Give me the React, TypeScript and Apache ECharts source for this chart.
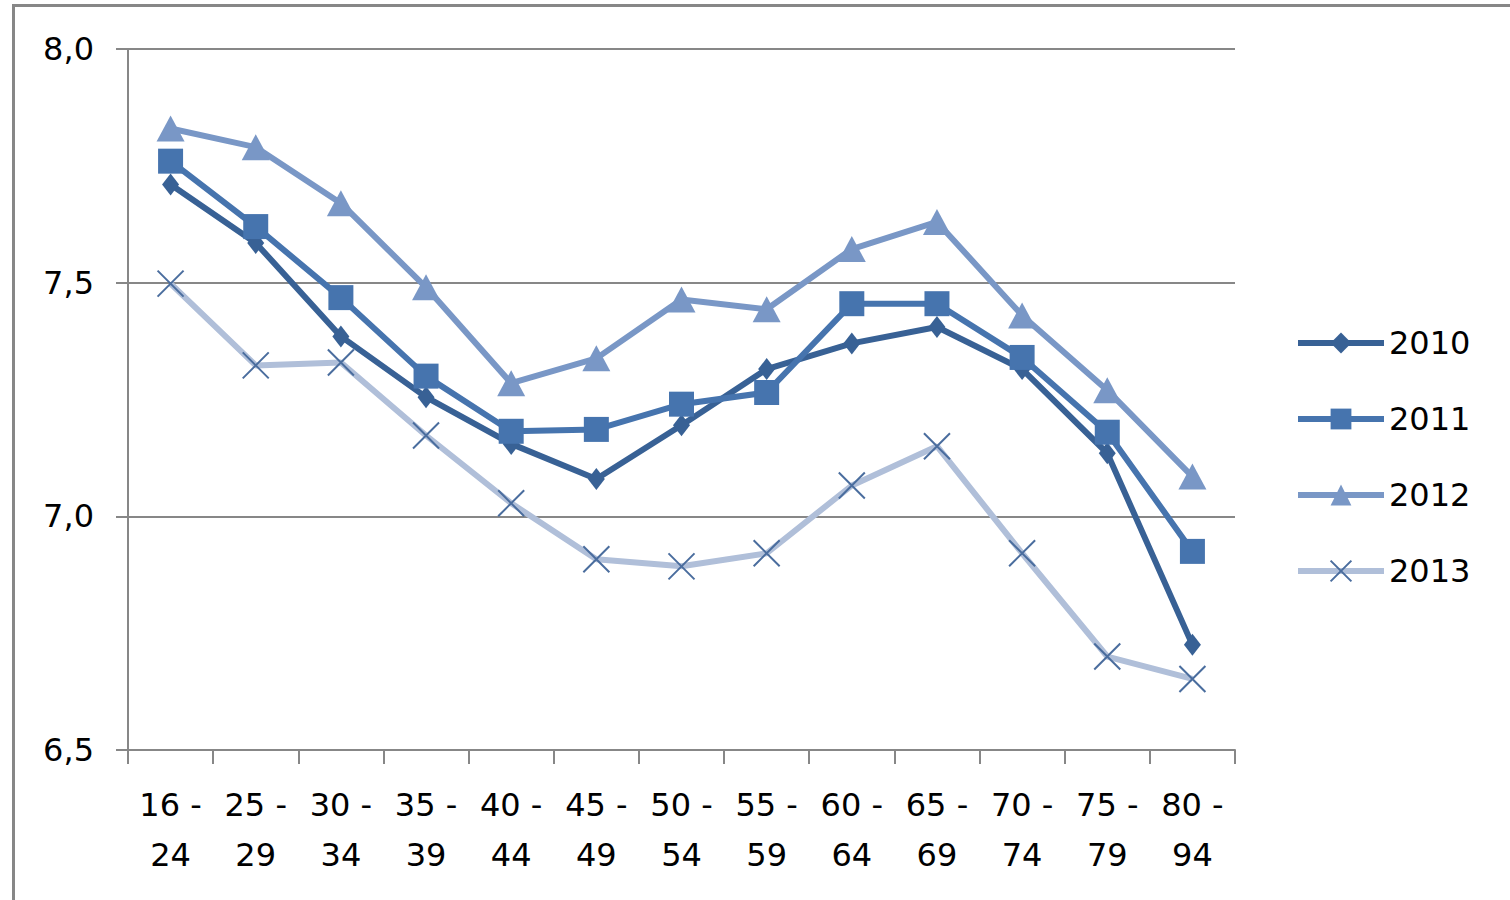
import React, { useEffect, useRef } from "react";
import * as echarts from "echarts";

const categories = ["16 -\n24", "25 -\n29", "30 -\n34", "35 -\n39", "40 -\n44", "45 -\n49", "50 -\n54", "55 -\n59", "60 -\n64", "65 -\n69", "70 -\n74", "75 -\n79", "80 -\n94"];
const s2010 = [7.71, 7.585, 7.385, 7.255, 7.155, 7.08, 7.195, 7.315, 7.37, 7.405, 7.315, 7.135, 6.725];
const s2011 = [7.76, 7.62, 7.468, 7.3, 7.182, 7.186, 7.24, 7.265, 7.455, 7.455, 7.34, 7.18, 6.925];
const s2012 = [7.83, 7.79, 7.67, 7.49, 7.285, 7.338, 7.464, 7.443, 7.572, 7.63, 7.43, 7.27, 7.085];
const s2013 = [7.498, 7.323, 7.329, 7.173, 7.028, 6.908, 6.893, 6.921, 7.066, 7.15, 6.921, 6.7, 6.652];

const FONT = "DejaVu Sans";

export default function App() {
  const ref = useRef<HTMLDivElement>(null);
  useEffect(() => {
    const chart = echarts.init(ref.current!, null, { renderer: "svg" });
    const cross = "path://M0,0L10,10M10,0L0,10";
    chart.setOption({
      animation: false,
      backgroundColor: "#ffffff",
      textStyle: { fontFamily: FONT },
      graphic: [
        { type: "line", shape: { x1: 13.5, y1: 5, x2: 13.5, y2: 900 }, style: { stroke: "#878787", lineWidth: 3 } },
        { type: "line", shape: { x1: 12, y1: 5.5, x2: 1510, y2: 5.5 }, style: { stroke: "#878787", lineWidth: 3 } },
      ],
      grid: { left: 128, right: 275, top: 49, bottom: 150, containLabel: false },
      legend: {
        orient: "vertical",
        left: 1290,
        top: 322,
        itemWidth: 86,
        itemHeight: 26,
        itemGap: 44,
        lineStyle: { width: 6 },
        textStyle: { fontFamily: FONT, fontSize: 32, color: "#000", lineHeight: 32 },
        data: ["2010", "2011", "2012", "2013"],
      },
      xAxis: {
        type: "category",
        data: categories,
        boundaryGap: true,
        axisLine: { show: true, lineStyle: { color: "#878787", width: 2 } },
        axisTick: { show: true, length: 14, lineStyle: { color: "#878787", width: 2 } },
        axisLabel: { fontFamily: FONT, fontSize: 32, color: "#000", lineHeight: 50, margin: 30, interval: 0 },
        splitLine: { show: false },
      },
      yAxis: {
        type: "value",
        min: 6.5,
        max: 8.0,
        interval: 0.5,
        axisLine: { show: true, lineStyle: { color: "#878787", width: 2 } },
        axisTick: { show: true, length: 12, lineStyle: { color: "#878787", width: 2 } },
        axisLabel: {
          fontFamily: FONT,
          fontSize: 32,
          color: "#000",
          margin: 34,
          formatter: (v: number) => v.toFixed(1).replace(".", ","),
        },
        splitLine: { show: true, lineStyle: { color: "#878787", width: 2 } },
      },
      series: [
        {
          name: "2010",
          type: "line",
          data: s2010,
          symbol: "diamond",
          symbolSize: [17, 22],
          lineStyle: { color: "#386195", width: 6 },
          itemStyle: { color: "#386195" },
        },
        {
          name: "2011",
          type: "line",
          data: s2011,
          symbol: "rect",
          symbolSize: 25,
          lineStyle: { color: "#4674ae", width: 6 },
          itemStyle: { color: "#4674ae" },
        },
        {
          name: "2012",
          type: "line",
          data: s2012,
          symbol: "triangle",
          symbolSize: [28, 26],
          lineStyle: { color: "#7997c6", width: 6 },
          itemStyle: { color: "#7997c6" },
        },
        {
          name: "2013",
          type: "line",
          data: s2013,
          symbol: cross,
          symbolSize: 26,
          lineStyle: { color: "#b0bfd9", width: 6 },
          itemStyle: { color: "transparent", borderColor: "#4a6d9e", borderWidth: 2 },
        },
      ],
    });
    return () => chart.dispose();
  }, []);
  return <div ref={ref} style={{ position: "fixed", left: 0, top: 0, width: 1510, height: 900 }} />;
}
